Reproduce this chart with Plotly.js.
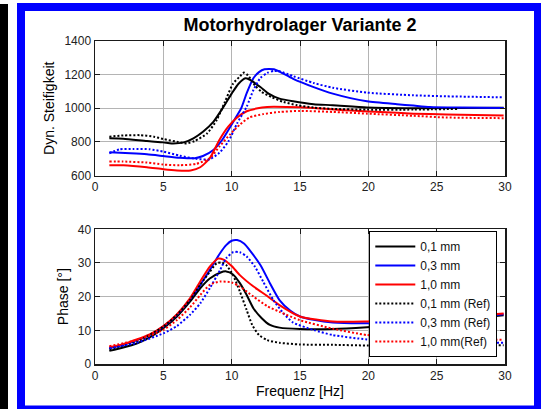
<!DOCTYPE html>
<html>
<head>
<meta charset="utf-8">
<script src="https://cdn.plot.ly/plotly-3.0.1.min.js"></script>
<style>
html,body{margin:0;padding:0;background:#fff;}
#chart{width:541px;height:409px;}
</style>
</head>
<body>
<div id="chart"></div>
<script>
// ---------- Data: Dyn. Steifigkeit (top) ----------
const stiff01_f = [1.05,2.07,3.8,5,5.6,6.5,7.2,7.9,8.66,9.4,10,10.5,11.0,11.3,12.1,12.7,13.5,14.5,16,17.4,19.9,23.3,29.9];
const stiff01_v = [821,819,805,797,791,797,821,860,919,1008,1087,1146,1179,1171,1126,1087,1057,1041,1024,1018,1004,1000,1003];

const stiff03_f = [1.05,2.6,3.8,5,6.2,7.3,7.9,8.66,9.3,9.9,10.3,10.7,11.1,11.6,12.0,12.4,13.1,13.5,14.5,16,17.4,19.9,22.1,23.3,24.5,26.7,29.9];
const stiff03_v = [738,732,726,716,706,703,716,752,811,890,945,1000,1090,1180,1215,1232,1232,1218,1175,1126,1087,1041,1024,1016,1008,1004,1001];

const stiff10_f = [1.05,2.07,3.8,5,6,7,7.7,8.4,9.1,9.75,10.4,11.1,11.8,12.6,14,16,18.4,20.9,23.3,25.7,29.9];
const stiff10_v = [661,661,649,637,630,630,649,703,811,890,945,982,998,1008,1008,1002,988,978,968,963,957];

const stiff01ref_f = [1.05,2.07,3.3,4.3,5,6,6.7,7.3,8.2,8.9,9.5,10.1,10.6,10.9,11.2,11.7,12.2,12.9,13.8,14.8,16,17.4,19.9,23.3,26.6];
const stiff01ref_v = [831,838,840,831,817,801,791,805,850,929,1037,1146,1189,1212,1195,1136,1097,1067,1037,1018,1004,996,992,992,996];

const stiff03ref_f = [1.05,1.8,2.8,4.0,5,6.2,7.4,8.4,9.1,9.75,10.4,11.1,11.6,12.1,12.6,13.1,13.5,14.5,16,17.4,19.9,23.3,25.7,29.9];
const stiff03ref_v = [732,756,758,756,742,718,699,697,735,801,910,1010,1110,1180,1210,1222,1220,1191,1150,1122,1093,1077,1071,1065];

const stiff10ref_f = [1.05,2.07,3.8,5,6.2,7.4,8.4,9.1,9.9,10.6,11.3,12.3,13.5,15,17.4,19.9,23.3,25.7,29.9];
const stiff10ref_v = [683,683,677,665,661,669,703,772,846,903,945,965,978,984,978,968,955,945,941];

// ---------- Data: Phase (bottom) ----------
const phase01_f = [1.05,2.07,3.05,4,5,6,6.95,7.7,8.4,9.15,9.6,10.1,10.6,11.1,11.6,12.2,12.8,13.5,15,17.4,19.9,22,25,28,29.9];
const phase01_v = [3.9,4.9,6.1,7.9,10.6,14.1,18.5,22.5,25.4,27.1,27.5,26.6,24,20.5,16.5,13.6,11.6,10.8,10.4,10.4,10.9,11.5,12.5,13.7,14.5];

const phase03_f = [1.05,2.07,4,5,6,6.95,7.7,8.4,9.15,9.6,10,10.4,10.9,11.3,12.1,12.8,13.5,14.3,15,16,17.4,19.9,23,26,29.9];
const phase03_v = [4.7,5.6,8.6,11.1,14.6,19.2,23.5,27.9,32.9,35.3,36.6,36.8,35.8,33.9,29.4,24,19,15.8,14.1,13.1,12.3,12.1,12.5,13.3,14.8];

const phase10_f = [1.05,2.07,4,5,6,6.95,7.7,8.4,9.0,9.4,10,10.6,11.6,12.6,13.5,15,17.4,19.9,23,26,29.9];
const phase10_v = [5,5.9,8.8,11.3,14.8,19.5,24.5,28.9,31.3,31.0,29.1,26.4,23,20.2,17.5,14.1,12.6,12.6,13,13.8,15];

const phase01ref_f = [1.05,3.05,5,6,6.95,7.7,8.4,8.9,9.3,9.6,10.1,10.6,11.1,11.5,12,12.6,13.5,15,17.4,19.9,23.3,29.9];
const phase01ref_v = [4.4,6.6,11.1,14.6,19,23.5,27.4,29.9,30.1,29.4,26.4,21.5,16,11.6,8.6,7.1,6.3,5.8,5.7,5.5,5.6,5.6];

const phase03ref_f = [1.05,3.05,5,6,6.95,7.7,8.4,9.15,9.6,10.1,10.6,11.1,11.7,12.3,13.05,13.8,14.5,16,17.4,19.9,23,26,29.9];
const phase03ref_v = [4.7,6.3,9.1,11.3,14.6,18,22.5,27.9,31.4,33.2,33.2,31.9,28.9,24.5,19,15,12.3,10.1,8.6,7.3,6.7,6.4,6.3];

const phase10ref_f = [1.05,3.05,5,6,6.95,7.7,8.4,9.15,10,10.6,11.6,12.6,13.5,15,17.4,19.9,23,26,29.9];
const phase10ref_v = [5.3,7.1,10.1,13.1,16.8,20.5,23.5,24.5,24.2,23,20,17.2,15.5,13,10.5,8.6,7.8,7.4,7.2];

// ---------- Labels ----------
const chartTitle = 'Motorhydrolager Variante 2';
const seriesNames = ['0,1 mm','0,3 mm','1,0 mm','0,1 mm (Ref)','0,3 mm (Ref)','1,0 mm(Ref)'];
const xTicks = [0,5,10,15,20,25,30];
const yTicksTop = [600,800,1000,1200,1400];
const yTicksBottom = [0,10,20,30,40];

// ---------- Build ----------
const colors = ['#000000','#0000ff','#ff0000','#000000','#0000ff','#ff0000'];
const dashes = ['solid','solid','solid','2px,2px','2px,2px','2px,2px'];
const topData = [[stiff01_f,stiff01_v],[stiff03_f,stiff03_v],[stiff10_f,stiff10_v],
                 [stiff01ref_f,stiff01ref_v],[stiff03ref_f,stiff03ref_v],[stiff10ref_f,stiff10ref_v]];
const botData = [[phase01_f,phase01_v],[phase03_f,phase03_v],[phase10_f,phase10_v],
                 [phase01ref_f,phase01ref_v],[phase03ref_f,phase03ref_v],[phase10ref_f,phase10ref_v]];

const traces = [];
topData.forEach((d,i)=>{
  traces.push({x:d[0],y:d[1],xaxis:'x',yaxis:'y',type:'scatter',mode:'lines',
    name:seriesNames[i],legendgroup:'g'+i,showlegend:false,
    line:{color:colors[i],width:2,dash:dashes[i],shape:'spline',smoothing:0.6},hoverinfo:'skip'});
});
botData.forEach((d,i)=>{
  traces.push({x:d[0],y:d[1],xaxis:'x2',yaxis:'y2',type:'scatter',mode:'lines',
    name:seriesNames[i],legendgroup:'g'+i,showlegend:true,
    line:{color:colors[i],width:2,dash:dashes[i],shape:'spline',smoothing:0.6},hoverinfo:'skip'});
});

const FONT = 'Liberation Sans, Arial, sans-serif';
const axisCommon = {
  showgrid:true, gridcolor:'#b4b4b4', gridwidth:1,
  showline:true, linecolor:'#1a1a1a', linewidth:1.5, mirror:'ticks',
  ticks:'inside', ticklen:5, tickcolor:'#1a1a1a', tickwidth:1,
  zeroline:false, tickfont:{family:FONT,size:12,color:'#222'}
};

// margins: plot area x 95..505, y 41..364
const L=95, R=36, T=41, B=45, W=541, H=409;
const pw = W-L-R, ph = H-T-B;
const px = v => (v-L)/pw;
const py = v => (H-B-v)/ph;

const layout = {
  width:W, height:H,
  margin:{l:L,r:R,t:T,b:B},
  paper_bgcolor:'#ffffff', plot_bgcolor:'#ffffff',
  showlegend:true,
  title:{text:chartTitle, font:{family:FONT,size:18,color:'#000',weight:'bold'},
         xref:'paper', x:0.5, xanchor:'center', yref:'container', y:1-25/H, yanchor:'middle'},
  xaxis:Object.assign({}, axisCommon, {domain:[0,1], anchor:'y', range:[0,30], tickvals:xTicks, ticktext:xTicks.map(String)}),
  yaxis:Object.assign({}, axisCommon, {domain:[py(175.5),1], anchor:'x', range:[600,1400], tickvals:yTicksTop, ticktext:yTicksTop.map(String),
         title:{text:'Dyn. Steifigkeit', font:{family:FONT,size:14,color:'#000'}, standoff:6}}),
  xaxis2:Object.assign({}, axisCommon, {domain:[0,1], anchor:'y2', range:[0,30], tickvals:xTicks, ticktext:xTicks.map(String),
         title:{text:'Frequenz [Hz]', font:{family:FONT,size:14,color:'#000'}, standoff:4}}),
  yaxis2:Object.assign({}, axisCommon, {domain:[0,py(229.3)], anchor:'x2', range:[0,40], tickvals:yTicksBottom, ticktext:yTicksBottom.map(String),
         title:{text:'Phase [°]', font:{family:FONT,size:14,color:'#000'}, standoff:6}}),
  legend:{x:px(369.3), y:py(231), xanchor:'left', yanchor:'top', xref:'paper', yref:'paper',
          bgcolor:'#ffffff', bordercolor:'#000000', borderwidth:1,
          font:{family:FONT,size:12,color:'#111'}, itemwidth:40, tracegroupgap:0, traceorder:'normal'},
  shapes:[
    {type:'rect', xref:'paper', yref:'paper', x0:px(0), x1:px(8), y0:py(411), y1:py(4),
     fillcolor:'#000000', line:{width:0}, layer:'below'},
    {type:'rect', xref:'paper', yref:'paper', x0:px(21), x1:px(538), y0:py(409.5), y1:py(7),
     fillcolor:'rgba(0,0,0,0)', line:{color:'#0000ff', width:8}, layer:'below'}
  ]
};

Plotly.newPlot('chart', traces, layout, {staticPlot:true, displayModeBar:false});
</script>
</body>
</html>
